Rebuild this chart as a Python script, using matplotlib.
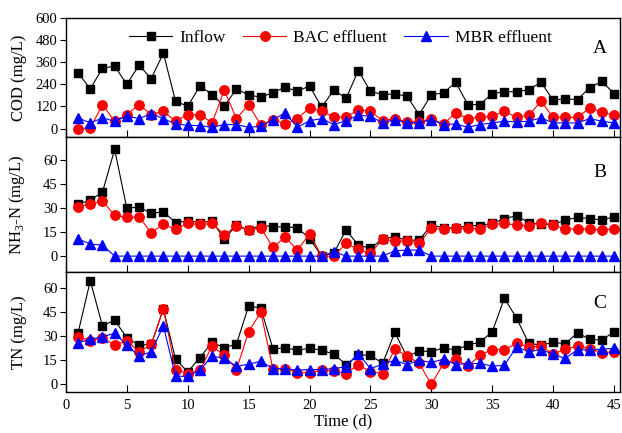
import matplotlib
matplotlib.use('Agg')
import matplotlib.pyplot as plt

plt.rcParams['font.family'] = ['Liberation Serif', 'DejaVu Serif']
plt.rcParams['mathtext.fontset'] = 'custom'
plt.rcParams['mathtext.rm'] = 'Liberation Serif'

days = list(range(1, 46))

cod_inflow = [302, 215, 327, 338, 240, 343, 271, 408, 148, 121, 231, 184, 121, 215, 182,
              170, 195, 224, 202, 231, 116, 210, 163, 314, 202, 184, 188, 175, 76, 184,
              193, 251, 130, 130, 190, 199, 200, 211, 251, 154, 161, 157, 222, 255, 190]
cod_bac = [0, 3, 130, 40, 76, 130, 76, 94, 40, 76, 76, 31, 208, 54, 130,
           18, 49, 25, 54, 112, 94, 63, 61, 103, 94, 43, 54, 36, 36, 54,
           25, 85, 54, 61, 67, 94, 61, 72, 148, 61, 61, 61, 112, 90, 72]
cod_mbr = [58, 31, 58, 40, 67, 54, 81, 54, 25, 18, 16, 7, 22, 22, 7,
           13, 49, 85, 7, 43, 54, 22, 43, 72, 67, 31, 49, 31, 31, 49,
           22, 25, 7, 22, 31, 40, 36, 40, 58, 31, 31, 31, 54, 40, 31]

nh3_inflow = [32.5, 35, 40, 66.7, 29.8, 30.8, 26.7, 27.7, 21, 22, 21, 22, 10.6, 19.4, 16.2,
              19.4, 18.3, 18.3, 17.7, 11, 0, 2, 16.3, 6.9, 4.8, 10.8, 12, 10, 10, 19.4,
              17.7, 17.7, 19, 19, 20.4, 23.5, 25.2, 21, 19.8, 19.8, 22.5, 24.2, 23.5, 22.5, 24.6]
nh3_bac = [30.8, 32.5, 34.4, 25.6, 24.2, 24.6, 14.6, 19.8, 16.9, 20.4, 19.8, 20.4, 13.5, 18.8, 16.2,
           17.7, 5.4, 12, 3.7, 14, 0, 0, 7.9, 4.2, 1.7, 10.6, 9.4, 9.4, 8.3, 17.3,
           16.9, 17.7, 17.3, 17, 19.8, 20.4, 19.4, 19, 21, 19.4, 17, 17, 17, 16.3, 17]
nh3_mbr = [10.8, 7.5, 6.9, 0, 0, 0, 0, 0, 0, 0, 0, 0, 0, 0, 0,
           0, 0, 0, 0, 0, 0, 2.7, 0, 0, 0, 0, 3.3, 3.8, 3.8, 0,
           0, 0, 0, 0, 0, 0, 0, 0, 0, 0, 0, 0, 0, 0, 0]

tn_inflow = [32.2, 64.6, 36.4, 40.1, 29, 24.5, 24.9, 47, 15.7, 7.7, 16.7, 26.1, 22.8, 25.1, 48.9,
             47.5, 22, 22.8, 21.3, 22.4, 21.3, 18.8, 12.3, 18.2, 18.2, 13, 32.4, 17.1, 20.9, 20.3,
             22.8, 21.3, 24.5, 26.3, 32.8, 53.7, 41.2, 25.5, 24.5, 26.1, 25.3, 32.2, 28, 27.6, 32.8]
tn_bac = [29.7, 27.2, 29, 24.5, 27.2, 20.3, 24.9, 47, 9.2, 6.7, 8.8, 23.8, 18.2, 9.2, 32.8,
          45, 9.4, 9.8, 7.3, 7.1, 8.8, 8.2, 6.7, 12.3, 7.7, 6.7, 22, 17.8, 13, 0,
          13, 15.5, 11.3, 18.2, 21.7, 21.7, 25.5, 23.4, 23.8, 18.8, 22, 23.8, 22.2, 19.7, 20.3]
tn_mbr = [26, 28, 29.7, 31.8, 24.5, 17.6, 20.3, 36.4, 5, 5, 8.8, 17.6, 16.1, 11.3, 12.5,
          14.4, 9.8, 9.8, 8.8, 9.2, 9.2, 9.8, 10.9, 19.2, 9.8, 12.5, 15, 12.3, 15, 13.6,
          15.7, 12.3, 13, 13, 11.3, 11.9, 23.4, 20.3, 21.7, 18.8, 16.1, 21.7, 21.3, 22, 22.4]

panels = [
    (cod_inflow, cod_bac, cod_mbr, 'COD (mg/L)', (-45, 600), [0, 120, 240, 360, 480, 600], 'A'),
    (nh3_inflow, nh3_bac, nh3_mbr, r'NH$_\mathrm{3}$-N (mg/L)', (-10, 74.5), [0, 15, 30, 45, 60], 'B'),
    (tn_inflow, tn_bac, tn_mbr, 'TN (mg/L)', (-5, 70), [0, 15, 30, 45, 60], 'C'),
]

fig, axes = plt.subplots(3, 1, figsize=(6.22, 4.33), dpi=100, sharex=True,
                         gridspec_kw={'height_ratios': [119, 135, 120]})
fig.subplots_adjust(left=0.106, right=0.997, top=0.959, bottom=0.094, hspace=0)

for ax, (inflow, bac, mbr, ylabel, ylim, yticks, tag) in zip(axes, panels):
    ax.plot(days, inflow, color='black', lw=0.8, marker='s', ms=6, label='Inflow')
    ax.plot(days, bac, color='red', lw=0.8, marker='o', ms=6.8, label='BAC effluent')
    ax.plot(days, mbr, color='blue', lw=0.8, marker='^', ms=7, label='MBR effluent')
    ax.set_ylim(ylim)
    ax.set_yticks(yticks)
    ax.set_ylabel(ylabel, fontsize=12)
    ax.yaxis.set_label_coords(-0.07, 0.5)
    ax.tick_params(axis='y', direction='out', length=4, width=0.8, labelsize=10.5, pad=2)
    ax.tick_params(axis='x', direction='in', length=5, width=0.8, labelsize=10.5, pad=5)
    for s in ax.spines.values():
        s.set_linewidth(1.0)
    ax.text(0.963, 0.74, tag, transform=ax.transAxes, fontsize=14, ha='center', va='center')

axes[0].legend(loc='center', bbox_to_anchor=(0.495, 0.832), ncol=3, frameon=False,
               fontsize=12.5, handlelength=2.5, columnspacing=1.0, handletextpad=0.4)

axes[2].set_xlim(0, 45.5)
axes[2].set_xticks(range(0, 46, 5))
axes[2].set_xlabel('Time (d)', fontsize=12, labelpad=1)

plt.savefig('out.png', dpi=100)
